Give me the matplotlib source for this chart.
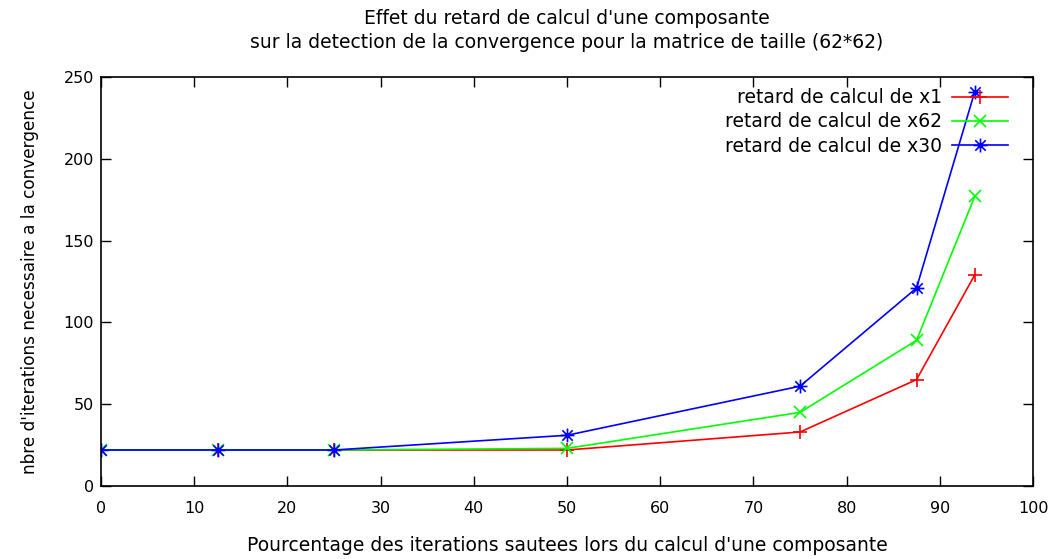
import matplotlib
matplotlib.use("Agg")
import matplotlib.pyplot as plt
from matplotlib.path import Path

# Percentage of skipped iterations
x_pct = [0, 12.5, 25, 50, 75, 87.5, 93.75]

# Iterations needed to detect convergence, per delayed component
iters_x1 = [22, 22, 22, 22, 33, 65, 129]
iters_x62 = [22, 22, 22, 23, 45, 89, 177]
iters_x30 = [22, 22, 22, 31, 61, 121, 241]

labels = ["retard de calcul de x1", "retard de calcul de x62", "retard de calcul de x30"]
x_ticks = list(range(0, 101, 10))
y_ticks = list(range(0, 251, 50))

# Asterisk marker: a plus and a cross drawn together
asterisk = Path(
    [(-1, 0), (1, 0), (0, -1), (0, 1), (-0.75, -0.75), (0.75, 0.75), (-0.75, 0.75), (0.75, -0.75)],
    [Path.MOVETO, Path.LINETO] * 4,
)

plt.rcParams["font.family"] = ["DejaVu Sans"]
fig = plt.figure(figsize=(10.57, 5.59), dpi=100)
ax = fig.add_axes([0.0956, 0.1306, 0.8817, 0.7317])

ax.plot(x_pct, iters_x1, color="#ff0000", lw=1.2, marker="+", ms=10, mew=1.2, label=labels[0])
ax.plot(x_pct, iters_x62, color="#00ff00", lw=1.2, marker="x", ms=8, mew=1.2, label=labels[1])
ax.plot(x_pct, iters_x30, color="#0000ff", lw=1.2, marker=asterisk, ms=10, mew=1.2, label=labels[2])

ax.set_xlim(0, 100)
ax.set_ylim(0, 250)
ax.set_xticks(x_ticks)
ax.set_yticks(y_ticks)
ax.tick_params(direction="in", top=True, right=True, length=7, width=1, labelsize=11.5)
ax.tick_params(axis="x", pad=11)
ax.tick_params(axis="y", pad=5)
for s in ax.spines.values():
    s.set_linewidth(1.2)

ax.set_xlabel("Pourcentage des iterations sautees lors du calcul d'une composante", fontsize=13.5, labelpad=14)
ax.set_ylabel("nbre d'iterations necessaire a la convergence", fontsize=12.2, labelpad=18)
ax.set_title("Effet du retard de calcul d'une composante\n"
             "sur la detection de la convergence pour la matrice de taille (62*62)",
             fontsize=13.5, pad=21, linespacing=1.35)

ax.legend(loc="upper right", frameon=False, markerfirst=False, fontsize=13.5,
          handlelength=3.0, handletextpad=0.55, labelspacing=0.28,
          borderaxespad=0.2, bbox_to_anchor=(0.9855, 1.0))

fig.savefig("out.png", dpi=100)
